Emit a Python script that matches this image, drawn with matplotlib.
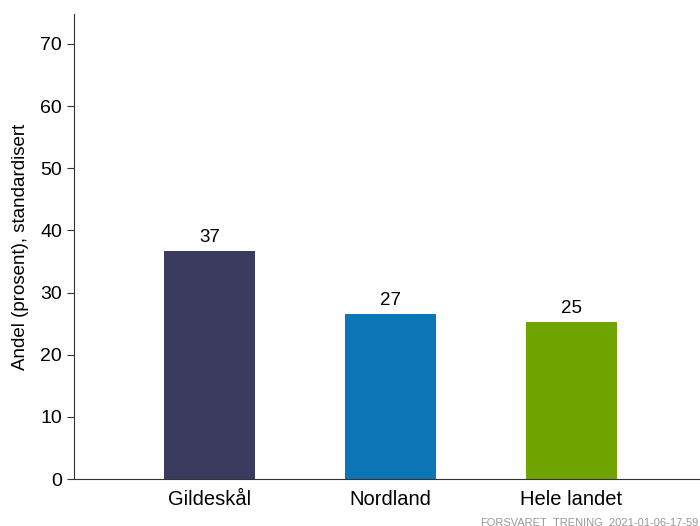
import matplotlib.pyplot as plt

plt.rcParams['font.family'] = ['Liberation Sans', 'DejaVu Sans']

categories = ['Gildeskål', 'Nordland', 'Hele landet']
values = [36.6, 26.6, 25.3]
labels = ['37', '27', '25']
colors = ['#3a3b5f', '#0b75b5', '#70a401']

fig = plt.figure(figsize=(7, 5.26), dpi=100)
ax = fig.add_axes([74 / 700, 47 / 526, 626 / 700, 465 / 526])

x = [1, 2, 3]
bars = ax.bar(x, values, width=0.5, color=colors)
for xi, v, lab in zip(x, values, labels):
    ax.text(xi, v + 0.8, lab, ha='center', va='bottom', fontsize=13.5)

ax.set_xlim(0.25, 3.71)
ax.set_ylim(0, 74.8)
ax.set_yticks(range(0, 71, 10))
ax.set_xticks(x)
ax.set_xticklabels(categories, fontsize=14.5)
ax.tick_params(axis='y', labelsize=14, length=5, color='#333333')
ax.tick_params(axis='x', length=0, pad=8)
ax.set_ylabel('Andel (prosent), standardisert', fontsize=13.5, labelpad=8)
for s in ['top', 'right']:
    ax.spines[s].set_visible(False)
for s in ['left', 'bottom']:
    ax.spines[s].set_color('#333333')

fig.text(480 / 700, 9 / 526, 'FORSVARET_TRENING_2021-01-06-17-59', fontsize=8,
         color='#999999', ha='left', va='top')

fig.savefig('out.png', dpi=100)
